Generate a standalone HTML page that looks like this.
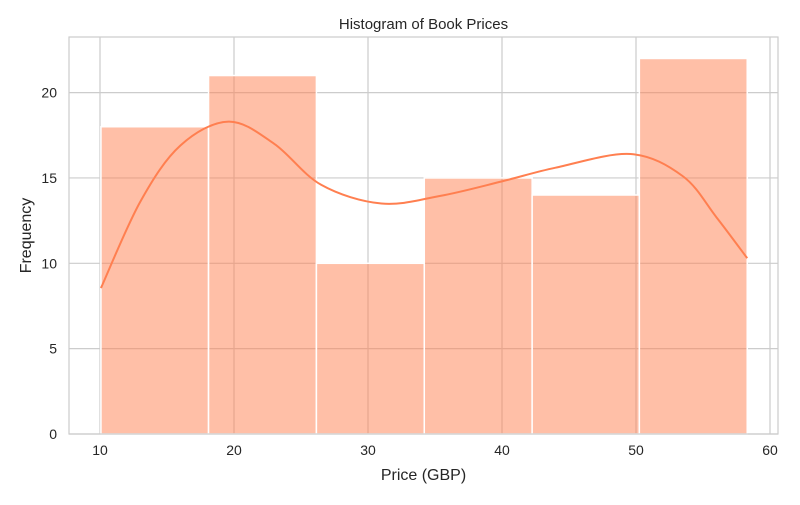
<!DOCTYPE html>
<html><head><meta charset="utf-8"><style>
body{margin:0;background:#fff;font-family:"Liberation Sans",sans-serif}
svg text{font-family:"Liberation Sans",sans-serif;fill:#262626}
</style></head><body>
<svg id="c" width="800" height="500"></svg>
<script>
const binEdges=[10.07,18.1,26.15,34.2,42.25,50.25,58.3];
const counts=[18,21,10,15,14,22];
const kdeX=[10.07,13,16,19.6,23,26.5,31,35.4,40,44,49.6,53.5,56,58.3];
const kdeY=[8.55,13.6,16.9,18.3,17.0,14.6,13.5,13.95,14.8,15.6,16.4,15.1,12.7,10.3];
const xTicks=[10,20,30,40,50,60];
const yTicks=[0,5,10,15,20];
const L=69,R=778,T=37,B=434;
const sx=v=>100+(v-10)*13.4;
const sy=v=>434-v*17.07;
const svg=document.getElementById('c');
const NS='http://www.w3.org/2000/svg';
function mk(t,a,p){const e=document.createElementNS(NS,t);for(const k in a)e.setAttribute(k,a[k]);(p||svg).appendChild(e);return e;}
xTicks.forEach(v=>{const g=mk('line',{x1:sx(v),x2:sx(v),y1:T,y2:B,stroke:'#cccccc','stroke-width':1.2});

const t=mk('text',{x:sx(v),y:B+21,'text-anchor':'middle','font-size':14});t.textContent=v;
});
yTicks.forEach(v=>{const g=mk('line',{x1:L,x2:R,y1:sy(v),y2:sy(v),stroke:'#cccccc','stroke-width':1.2});

const t=mk('text',{x:L-12,y:sy(v)+5,'text-anchor':'end','font-size':14});t.textContent=v;
});
counts.forEach((c,i)=>{const x0=sx(binEdges[i]),x1=sx(binEdges[i+1]);
const r=mk('rect',{x:x0,y:sy(c),width:x1-x0,height:B-sy(c),fill:'rgba(255,127,80,0.5)',stroke:'#fff','stroke-width':1.5});
});
const P=kdeX.map((x,i)=>[sx(x),sy(kdeY[i])]);
let d='M'+P[0][0]+','+P[0][1];
for(let i=0;i<P.length-1;i++){const p0=P[Math.max(0,i-1)],p1=P[i],p2=P[i+1],p3=P[Math.min(P.length-1,i+2)];
d+=` C${p1[0]+(p2[0]-p0[0])/6},${p1[1]+(p2[1]-p0[1])/6} ${p2[0]-(p3[0]-p1[0])/6},${p2[1]-(p3[1]-p1[1])/6} ${p2[0]},${p2[1]}`;}
const k=mk('path',{d:d,fill:'none',stroke:'#ff7f50','stroke-width':2});

const f=mk('rect',{x:L,y:T,width:R-L,height:B-T,fill:'none',stroke:'#cccccc','stroke-width':1.2});

const ti=mk('text',{x:(L+R)/2,y:29,'text-anchor':'middle','font-size':15});ti.textContent='Histogram of Book Prices';

const xt=mk('text',{x:(L+R)/2,y:480,'text-anchor':'middle','font-size':16});xt.textContent='Price (GBP)';

const yt=mk('text',{x:0,y:0,'text-anchor':'middle','font-size':16,transform:`translate(31,${(T+B)/2}) rotate(-90)`});yt.textContent='Frequency';

</script>
</body></html>
